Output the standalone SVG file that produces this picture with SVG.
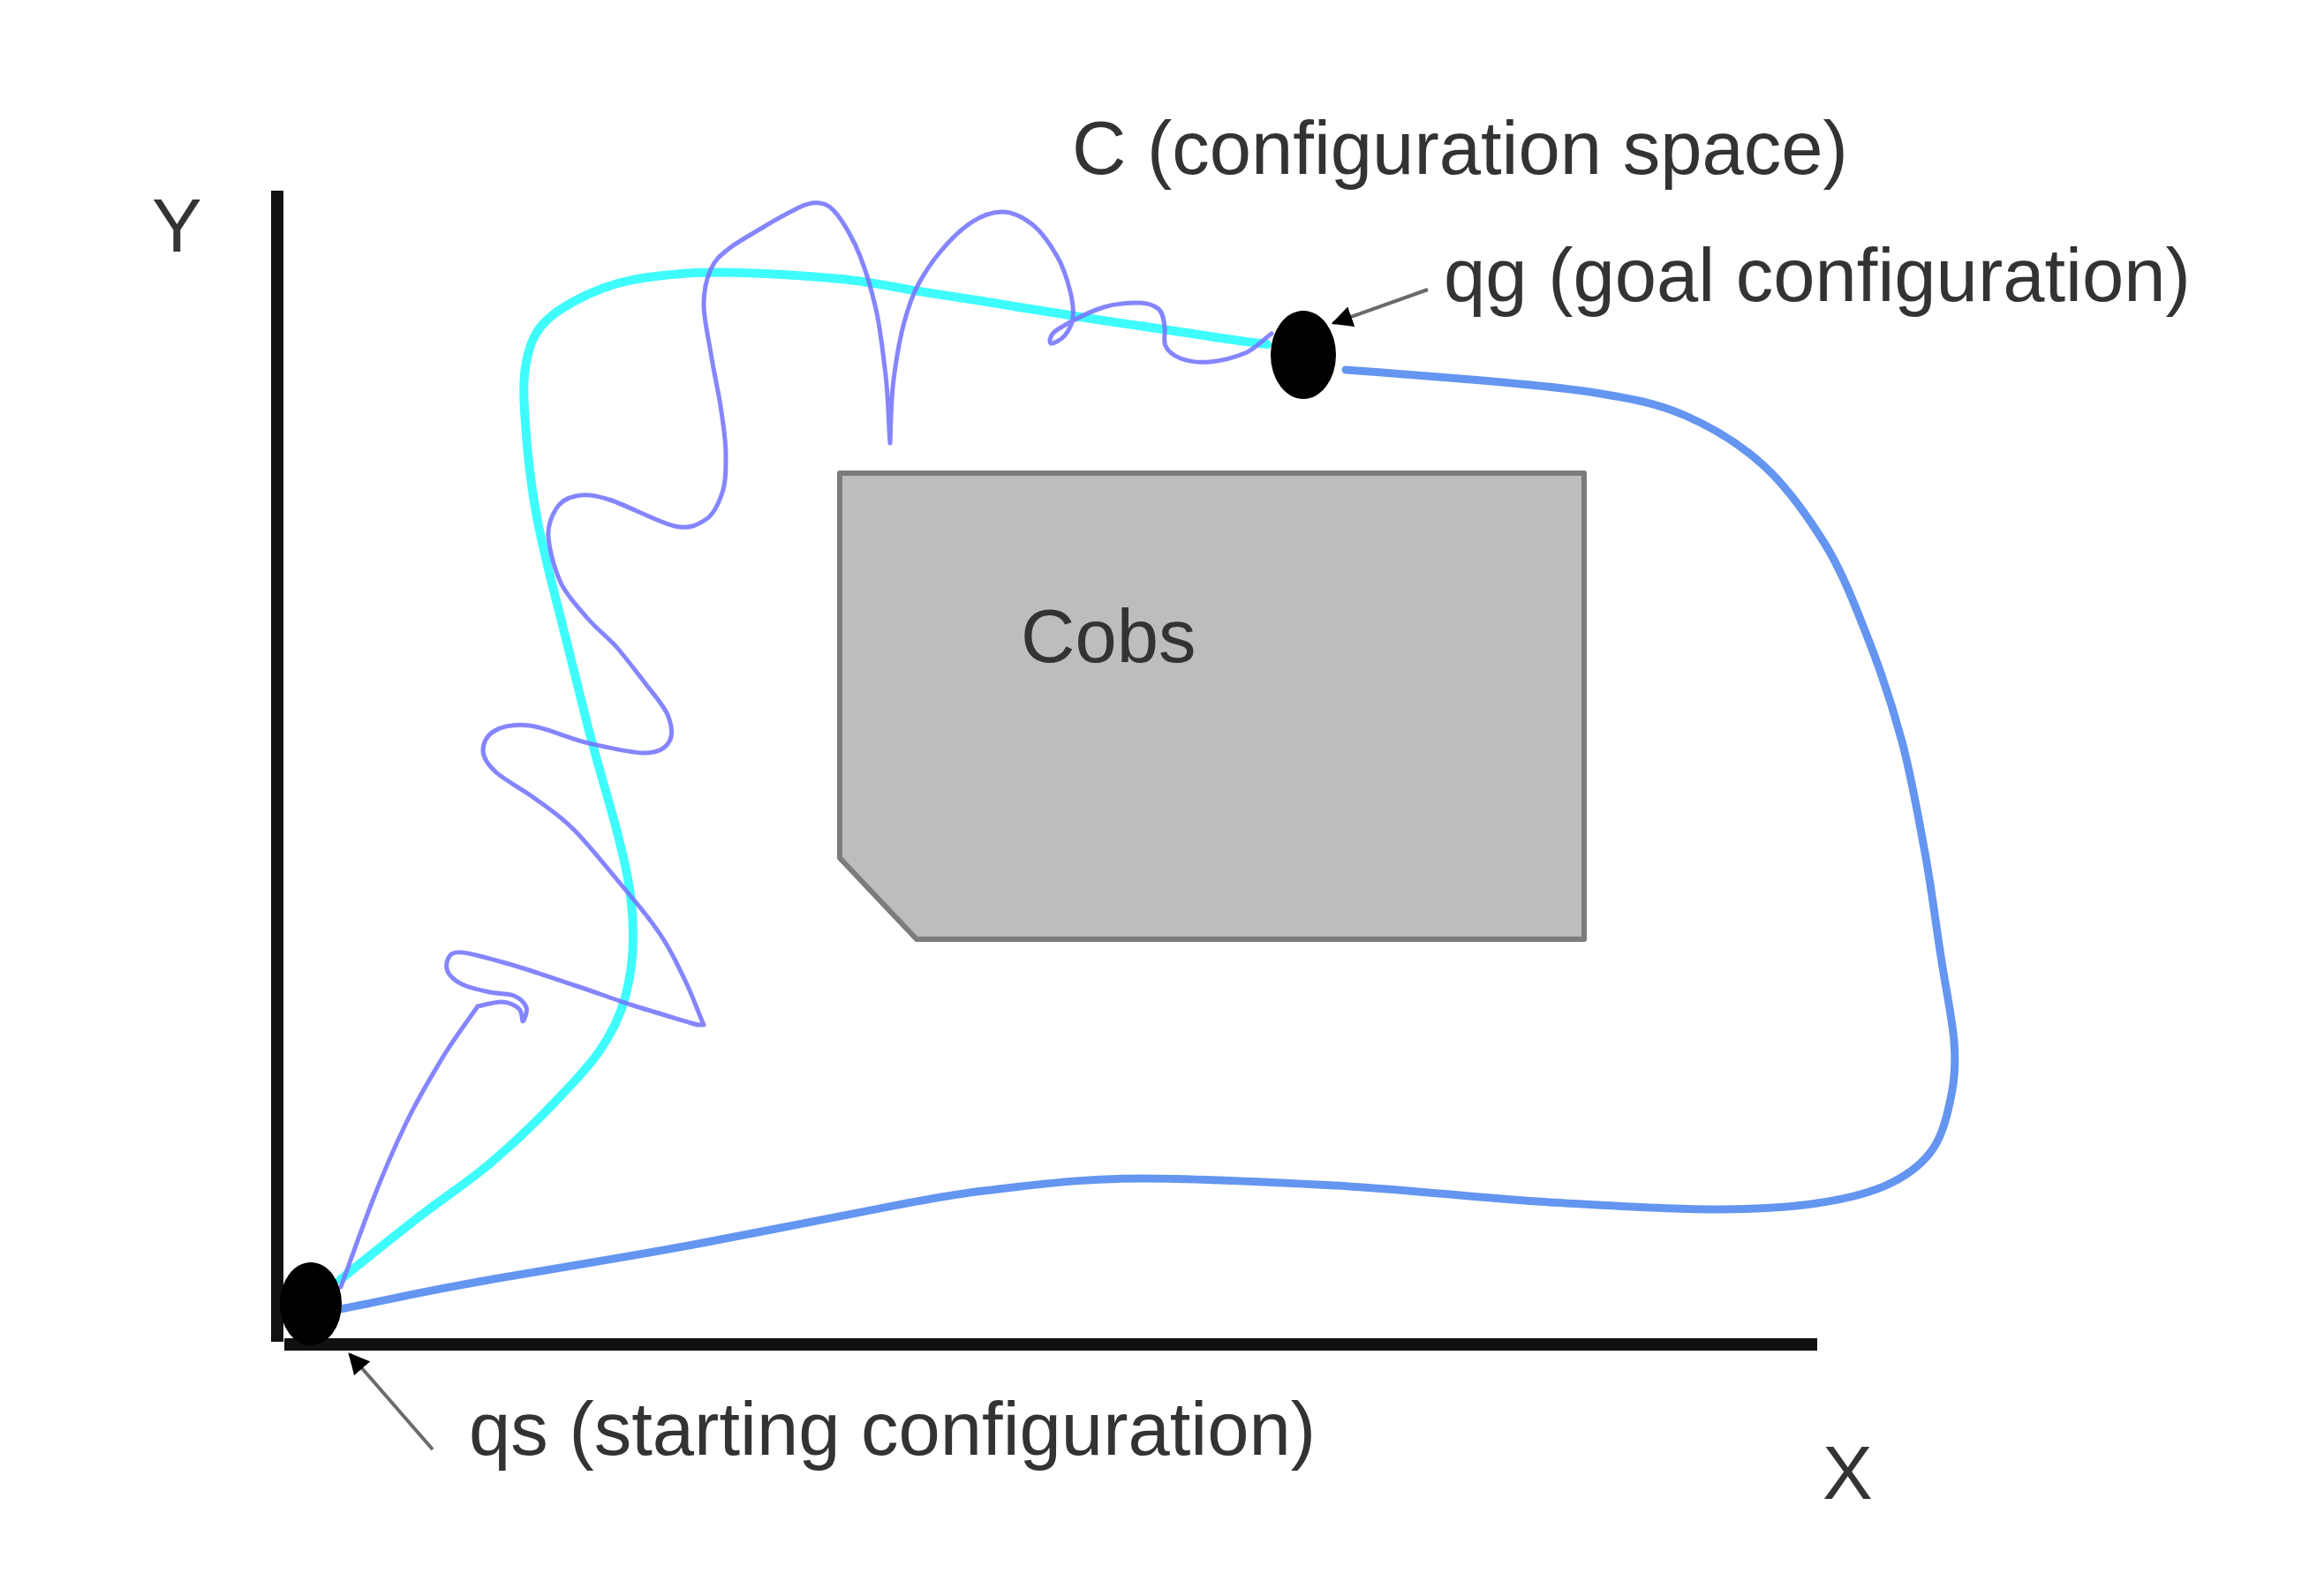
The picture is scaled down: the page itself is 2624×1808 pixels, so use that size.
<svg xmlns="http://www.w3.org/2000/svg" width="2624" height="1808" viewBox="0 0 2624 1808">
<style>
text{font-family:"Liberation Sans",Arial,sans-serif;font-size:85px;fill:#333}
.axis{stroke:#111;stroke-width:14;fill:none}
.ptr{stroke:#6a6a6a;stroke-width:4;fill:none}
.cyan{stroke:#3ffcfc;stroke-width:10;fill:none;stroke-linecap:round;stroke-linejoin:round}
.blue{stroke:#6495f0;stroke-width:9;fill:none;stroke-linecap:round;stroke-linejoin:round}
.purple{stroke:#7474ff;stroke-opacity:0.88;stroke-width:5;fill:none;stroke-linecap:round;stroke-linejoin:round}
.dot{fill:#000}
</style>
<defs>
<marker id="ah" viewBox="0 0 10 10" refX="9" refY="5" markerWidth="6" markerHeight="6" orient="auto" markerUnits="strokeWidth">
<path d="M0,0 L10,5 L0,10 z" fill="#000"/>
</marker>
</defs>
<rect width="2624" height="1808" fill="#fff"/>
<g id="axes">
<line class="axis" x1="314" y1="216" x2="314" y2="1520"/>
<line class="axis" x1="322" y1="1523" x2="2058" y2="1523"/>
<text x="172" y="285">Y</text>
<text x="2064" y="1698">X</text>
</g>
<g id="obstacle">
<path d="M951,536 L1794,536 L1794,1064 L1038,1064 L951,972 Z" fill="#bdbdbd" stroke="#7c7c7c" stroke-width="6" stroke-linejoin="round"/>
<text x="1156" y="750">Cobs</text>
</g>
<g id="space-label">
<text x="1214" y="197">C (configuration space)</text>
</g>
<g id="connectors">
<path class="cyan" d="M385,1450 C413,1427 442,1404 470,1382 S529,1340 555,1318 S605,1273 625,1252 S664,1212 678,1192 S702,1152 708,1130 S717,1083 717,1060 S715,1015 710,990 S698,938 690,910 S674,855 665,820 S645,739 635,700 S615,623 608,586 S597,509 595,480 S592,430 596,410 S605,376 620,362 S662,334 684,326 S725,315 751,312 S807,308 840,309 S919,313 952,316 S1011,325 1041,330 S1101,339 1130,344 S1186,353 1217,358 S1289,369 1317,373 S1363,380 1383,383 S1418,388 1435,390"/>
<path class="blue" d="M385,1483 C437,1473 475,1464 542,1452 S704,1425 785,1410 S967,1374 1027,1363 S1104,1350 1148,1345 S1233,1335 1294,1335 S1435,1339 1512,1343 S1684,1358 1755,1362 S1886,1370 1936,1370 S2024,1368 2058,1363 S2120,1351 2142,1340 S2179,1317 2190,1300 S2206,1260 2210,1240 S2215,1204 2213,1180 S2206,1132 2200,1096 S2188,1009 2180,966 S2165,881 2154,840 S2130,760 2115,722 S2086,647 2066,615 S2024,552 1998,528 S1941,485 1909,471 S1850,452 1807,445 S1701,433 1654,429 S1567,422 1524,419"/>
<path class="purple" d="M386,1458 C398,1425 410,1391 422,1360 S447,1299 460,1272 S487,1222 500,1200 S527,1160 541,1140 M541,1140 C550,1138 560,1135 568,1135 S584,1139 588,1143 S591,1157 592,1157 S598,1146 596,1141 S589,1131 582,1128 S564,1126 555,1124 S536,1120 528,1117 S513,1109 509,1104 S505,1091 507,1087 S510,1078 523,1079 S562,1088 583,1094 S628,1109 650,1116 S695,1132 717,1139 S770,1155 783,1159 S792,1160 797,1161 M797,1161 C790,1145 785,1130 777,1113 S761,1079 750,1062 S727,1030 710,1010 S668,958 650,940 S620,915 605,904 S572,884 562,875 S547,858 547,850 S551,833 560,828 S582,820 600,822 S645,837 667,842 S715,853 730,853 S754,847 758,840 S761,823 757,812 S743,790 733,777 S711,748 700,735 S676,713 665,700 S642,675 635,660 S622,622 621,608 S625,584 630,576 S642,564 652,562 S671,560 690,566 S746,592 764,596 S791,594 800,588 S814,570 818,558 S822,532 822,516 S819,479 816,460 S808,419 805,400 S797,361 797,345 S800,316 805,305 S815,290 825,282 S852,265 865,257 S895,240 905,235 S921,229 928,230 S940,233 948,243 S967,272 974,290 S987,328 992,350 S1000,400 1003,425 S1006,476 1008,502 M1008,502 C1009,478 1009,453 1012,430 S1019,383 1024,365 S1033,335 1040,322 S1055,297 1065,285 S1088,260 1100,252 S1123,240 1135,240 S1160,247 1170,255 S1190,278 1197,290 S1209,318 1212,330 S1216,352 1215,360 S1210,375 1206,380 S1192,390 1190,389 S1189,381 1193,377 S1203,370 1212,365 S1237,352 1250,348 S1280,343 1290,343 S1307,346 1312,350 S1318,363 1319,370 S1317,386 1320,392 S1329,403 1337,406 S1358,411 1370,410 S1398,405 1410,400 S1430,385 1440,378"/>
<line class="ptr" x1="1617" y1="328" x2="1510" y2="366" marker-end="url(#ah)"/>
<line class="ptr" x1="490" y1="1642" x2="396" y2="1534" marker-end="url(#ah)"/>
</g>
<g id="start">
<ellipse class="dot" cx="352" cy="1477" rx="35" ry="47"/>
<text x="531" y="1648">qs (starting configuration)</text>
</g>
<g id="goal">
<ellipse class="dot" cx="1476" cy="402" rx="37" ry="50"/>
<text x="1635" y="341">qg (goal configuration)</text>
</g>
</svg>
